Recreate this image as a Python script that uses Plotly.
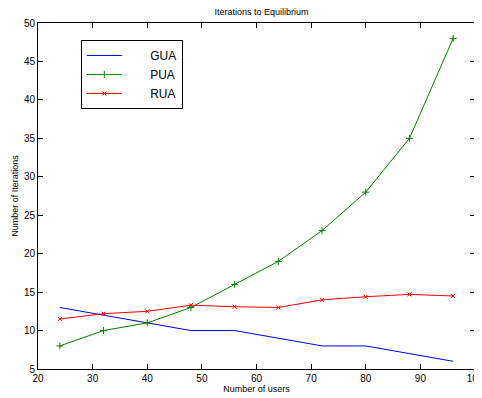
import plotly.graph_objects as go

users = [24, 32, 40, 48, 56, 64, 72, 80, 88, 96]
gua = [13, 12, 11, 10, 10, 9, 8, 8, 7, 6]
pua = [8, 10, 11, 13, 16, 19, 23, 28, 35, 48]
rua = [11.5, 12.2, 12.5, 13.3, 13.1, 13.0, 14.0, 14.4, 14.7, 14.5]

fig = go.Figure()
fig.add_trace(go.Scatter(x=users, y=gua, mode="lines", name="       GUA",
                         line=dict(color="#0000ff", width=1)))
fig.add_trace(go.Scatter(x=users, y=pua, mode="lines+markers", name="       PUA",
                         line=dict(color="#008000", width=1),
                         marker=dict(symbol="cross-thin", size=5, line=dict(color="#008000", width=1))))
fig.add_trace(go.Scatter(x=users, y=rua, mode="lines+markers", name="       RUA",
                         line=dict(color="#ff0000", width=1),
                         marker=dict(symbol="x-thin", size=4, line=dict(color="#ff0000", width=1))))

axis_common = dict(showline=True, linecolor="black", linewidth=1, mirror="ticks",
                   ticks="inside", ticklen=5, tickcolor="black", showgrid=False,
                   zeroline=False, tickfont=dict(size=10, color="black"), automargin=False,
                   ticklabeloverflow="allow")
fig.update_layout(
    width=474, height=390,
    margin=dict(l=30, r=7, t=15, b=29),
    paper_bgcolor="white", plot_bgcolor="white",
    font=dict(family="Liberation Sans, Arial, sans-serif", color="black", size=10),
    title=dict(text="Iterations to Equilibrium", x=0.535, xanchor="center", y=0.99, yanchor="middle",
               font=dict(size=9)),
    xaxis=dict(range=[20, 100], dtick=10, title=dict(text="Number of users", font=dict(size=9), standoff=0),
               **axis_common),
    yaxis=dict(range=[5, 50], dtick=5, title=dict(text="Number of Iterations", font=dict(size=9), standoff=3),
               **axis_common),
    legend=dict(x=0.098, y=0.951, xanchor="left", yanchor="top", bordercolor="black", borderwidth=1,
                bgcolor="white", font=dict(size=12), tracegroupgap=0, itemwidth=35),
    showlegend=True,
)
fig.write_html("out.html")
